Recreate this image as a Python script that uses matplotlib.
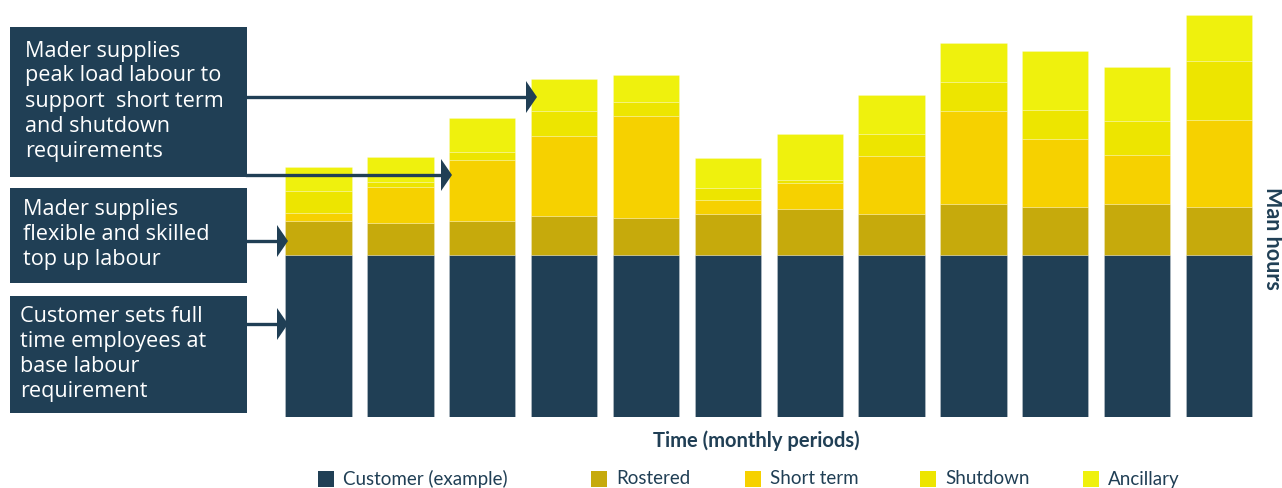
import matplotlib
matplotlib.use("Agg")
import matplotlib.pyplot as plt
from matplotlib.patches import Rectangle, Polygon
from matplotlib.lines import Line2D
import numpy as np

plt.rcParams['font.family'] = ['Lato', 'DejaVu Sans']

# ---- data (man hours, arbitrary units) ----
periods = list(range(1, 13))
customer = [162, 162, 162, 162, 162, 162, 162, 162, 162, 162, 162, 162]
rostered = [34, 32, 34, 39, 37, 41, 46, 41, 51, 48, 51, 48]
short_term = [8, 36, 61, 80, 102, 14, 26, 58, 93, 68, 49, 87]
shutdown = [22, 5, 8, 25, 14, 12, 3, 22, 29, 29, 34, 59]
ancillary = [24, 25, 34, 32, 27, 30, 46, 39, 39, 59, 54, 46]

series_names = ["Customer (example)", "Rostered", "Short term", "Shutdown", "Ancillary"]
series_values = [customer, rostered, short_term, shutdown, ancillary]
colors = ["#203F55", "#C6AA0C", "#F6D100", "#EDE500", "#EFF10D"]

box_texts = [
    "Mader supplies\npeak load labour to\nsupport  short term\nand shutdown\nrequirements",
    "Mader supplies\nflexible and skilled\ntop up labour",
    "Customer sets full\ntime employees at\nbase labour\nrequirement",
]

W, H = 1282, 488
fig = plt.figure(figsize=(W / 100, H / 100), dpi=100)

def fx(px):
    return px / W

def fy(py):
    return 1 - py / H

# axes placement (pixels)
ax_left, ax_right = 277.6, 1259.9
ax_top, ax_bottom = 0, 417
ax = fig.add_axes([fx(ax_left), fy(ax_bottom), fx(ax_right - ax_left), (ax_bottom - ax_top) / H])

x = np.arange(len(periods))
bottom = np.zeros(len(periods))
for name, vals, c in zip(series_names, series_values, colors):
    ax.bar(x, vals, bottom=bottom, width=0.81, color=c, edgecolor=(1, 1, 1, 0.3),
           linewidth=0.5, label=name)
    bottom += np.array(vals)

ax.set_xlim(-0.5, len(periods) - 0.5)
ax.set_ylim(0, ax_bottom - ax_top)
ax.axis("off")

navy = "#203F55"

# annotation boxes
boxes = [(10, 27, 247, 177), (10, 188, 247, 283), (10, 296, 247, 413)]
text_x = [25, 23, 20]
for (x0, y0, x1, y1), t, tx in zip(boxes, box_texts, text_x):
    fig.add_artist(Rectangle((fx(x0), fy(y1)), fx(x1 - x0), (y1 - y0) / H,
                             transform=fig.transFigure, facecolor=navy, edgecolor="none"))
    fig.text(fx(tx), fy((y0 + y1) / 2 - 1), t, color="white", fontsize=15.6,
             family=['Open Sans', 'DejaVu Sans'],
             va="center", ha="left", linespacing=1.25)

# arrows (start px, y px, tip px)
arrows = [(247, 97, 537), (247, 175, 452), (247, 241, 288), (247, 324, 288)]
for xs, ya, xt in arrows:
    fig.add_artist(Line2D([fx(xs), fx(xt - 8)], [fy(ya), fy(ya)], transform=fig.transFigure,
                          color=navy, linewidth=2.4))
    fig.add_artist(Polygon([[fx(xt - 11), fy(ya - 16)], [fx(xt), fy(ya)], [fx(xt - 11), fy(ya + 16)]],
                           closed=True, transform=fig.transFigure, facecolor=navy, edgecolor="none"))

# axis labels
fig.text(fx(756), fy(441), "Time (monthly periods)", ha="center", va="center",
         fontsize=14.5, fontweight="bold", color=navy)
fig.text(fx(1273), fy(238), "Man hours", ha="center", va="center", rotation=270,
         fontsize=15.5, fontweight="bold", color=navy)

# legend
leg_sq = [318, 591, 745, 920, 1083]
for sx, name, c in zip(leg_sq, series_names, colors):
    fig.add_artist(Rectangle((fx(sx), fy(487)), fx(16), 16 / H, transform=fig.transFigure,
                             facecolor=c, edgecolor="none"))
    fig.text(fx(sx + 25), fy(479), name, ha="left", va="center", fontsize=13.5, color=navy)

fig.savefig("out.png", dpi=100)
